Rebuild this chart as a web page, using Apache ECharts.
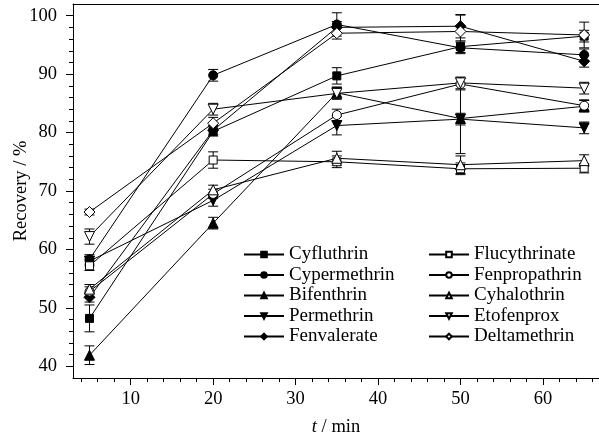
<!DOCTYPE html>
<html>
<head>
<meta charset="utf-8">
<script src="https://cdn.jsdelivr.net/npm/echarts@6/dist/echarts.min.js"></script>
<style>
  html, body { margin: 0; padding: 0; background: #fff; }
  #chart { width: 599px; height: 441px; }
</style>
</head>
<body>
<div id="chart"></div>
<script>
// sampling times (min)
const times = [5, 20, 35, 50, 65];

// recovery (%) per pesticide, one value per time
const cyfluthrin    = [48.2, 80.2, 89.7, 94.7, 96.5];
const cypermethrin  = [58.3, 89.8, 98.5, 94.5, 93.3];
const bifenthrin    = [41.9, 64.5, 86.8, 82.4, 84.5];
const permethrin    = [58.0, 68.4, 81.2, 82.3, 80.8];
const fenvalerate   = [51.8, 80.4, 98.0, 98.2, 92.2];
const flucythrinate = [57.2, 75.3, 75.0, 73.8, 73.9];
const fenpropathrin = [52.8, 69.5, 83.0, 88.3, 84.6];
const cyhalothrin   = [53.2, 70.2, 75.6, 74.5, 75.2];
const etofenprox    = [62.2, 84.0, 86.7, 88.5, 87.6];
const deltamethrin  = [66.4, 81.6, 97.0, 97.3, 96.7];

// standard deviations (error bars)
const cyfluthrinErr    = [2.3, 0.8, 1.4, 1.0, 1.0];
const cypermethrinErr  = [0.8, 1.0, 2.0, 1.0, 1.0];
const bifenthrinErr    = [1.6, 1.0, 1.0, 6.0, 1.0];
const permethrinErr    = [0.8, 1.0, 1.6, 1.0, 1.0];
const fenvalerateErr   = [0.8, 0.8, 1.0, 2.0, 1.0];
const flucythrinateErr = [0.8, 1.4, 1.0, 1.0, 0.8];
const fenpropathrinErr = [0.8, 0.8, 1.0, 1.0, 1.0];
const cyhalothrinErr   = [0.8, 0.8, 1.2, 1.5, 1.0];
const etofenproxErr    = [1.3, 1.0, 1.0, 1.0, 1.0];
const deltamethrinErr  = [0.5, 1.0, 1.0, 2.8, 2.2];

// axis ticks
const xMajorTicks = [10, 20, 30, 40, 50, 60];
const xMinorTicks = [4, 6, 8, 12, 14, 16, 18, 22, 24, 26, 28, 32, 34, 36, 38, 42, 44, 46, 48, 52, 54, 56, 58, 62, 64, 66];
const yMajorTicks = [40, 50, 60, 70, 80, 90, 100];
const yMinorTicks = [42, 44, 46, 48, 52, 54, 56, 58, 62, 64, 66, 68, 72, 74, 76, 78, 82, 84, 86, 88, 92, 94, 96, 98];

const FONT = '"Liberation Serif", "DejaVu Serif", serif';

// name, values, errors, marker
const pesticides = [
  ['Cyfluthrin',    cyfluthrin,    cyfluthrinErr,    'rect',     8,  0,   true],
  ['Cypermethrin',  cypermethrin,  cypermethrinErr,  'circle',   9,  0,   true],
  ['Bifenthrin',    bifenthrin,    bifenthrinErr,    'triangle', 10, 0,   true],
  ['Permethrin',    permethrin,    permethrinErr,    'triangle', 10, 180, true],
  ['Fenvalerate',   fenvalerate,   fenvalerateErr,   'diamond',  11, 0,   true],
  ['Flucythrinate', flucythrinate, flucythrinateErr, 'rect',     8,  0,   false],
  ['Fenpropathrin', fenpropathrin, fenpropathrinErr, 'circle',   9,  0,   false],
  ['Cyhalothrin',   cyhalothrin,   cyhalothrinErr,   'triangle', 10, 0,   false],
  ['Etofenprox',    etofenprox,    etofenproxErr,    'triangle', 10, 180, false],
  ['Deltamethrin',  deltamethrin,  deltamethrinErr,  'diamond',  11, 0,   false]
];

const chart = echarts.init(document.getElementById('chart'), null, { renderer: 'canvas' });

function renderErrorBar(params, api) {
  const x = api.value(0);
  const lo = api.coord([x, api.value(1)]);
  const hi = api.coord([x, api.value(2)]);
  const half = 5;
  const style = { stroke: '#000', lineWidth: 1 };
  return {
    type: 'group',
    children: [
      { type: 'line', shape: { x1: lo[0], y1: lo[1], x2: hi[0], y2: hi[1] }, style: style },
      { type: 'line', shape: { x1: lo[0] - half, y1: lo[1], x2: lo[0] + half, y2: lo[1] }, style: style },
      { type: 'line', shape: { x1: hi[0] - half, y1: hi[1], x2: hi[0] + half, y2: hi[1] }, style: style }
    ]
  };
}

const errorData = [];
pesticides.forEach(p => {
  times.forEach((t, i) => {
    errorData.push([t, p[1][i] - p[2][i], p[1][i] + p[2][i]]);
  });
});

const series = [{
  type: 'custom',
  name: 'err',
  renderItem: renderErrorBar,
  data: errorData,
  xAxisIndex: 0,
  yAxisIndex: 0,
  z: 1,
  silent: true
}];

pesticides.forEach(p => {
  series.push({
    type: 'line',
    name: p[0],
    data: times.map((t, i) => [t, p[1][i]]),
    xAxisIndex: 0,
    yAxisIndex: 0,
    symbol: p[3],
    symbolSize: p[4],
    symbolRotate: p[5],
    showAllSymbol: true,
    z: 2,
    lineStyle: { color: '#000', width: 1 },
    itemStyle: p[6]
      ? { color: '#000', borderColor: '#000', borderWidth: 1 }
      : { color: '#fff', borderColor: '#000', borderWidth: 1 }
  });
});

const legendBase = {
  orient: 'vertical',
  top: 245,
  padding: 0,
  itemWidth: 40,
  itemHeight: 7,
  itemGap: 1.5,
  textStyle: { fontSize: 19, fontFamily: FONT, color: '#000', lineHeight: 19 }
};

const axisText = { fontSize: 18.5, fontFamily: FONT, color: '#000' };
const black = { color: '#000', width: 1 };

chart.setOption({
  animation: false,
  backgroundColor: '#fff',
  grid: { left: 73, right: 0, top: 4, bottom: 63, containLabel: false, outerBoundsMode: 'none' },
  legend: [
    Object.assign({}, legendBase, { left: 243, data: pesticides.slice(0, 5).map(p => p[0]) }),
    Object.assign({}, legendBase, { left: 428, data: pesticides.slice(5).map(p => p[0]) })
  ],
  xAxis: [
    {
      type: 'value', min: 3, max: 66.8, position: 'bottom',
      axisLine: { lineStyle: black },
      axisTick: { length: 7, customValues: xMajorTicks, lineStyle: black },
      axisLabel: Object.assign({ customValues: xMajorTicks, margin: 12 }, axisText),
      splitLine: { show: false },
      name: '{it|t} / min',
      nameLocation: 'middle',
      nameGap: 40,
      nameMoveOverlap: false,
      nameTextStyle: Object.assign({ rich: { it: { fontStyle: 'italic', fontSize: 18.5, fontFamily: FONT, color: '#000' } } }, axisText)
    },
    {
      type: 'value', min: 3, max: 66.8, position: 'bottom',
      axisLine: { show: false },
      axisTick: { length: 4, customValues: xMinorTicks, lineStyle: black },
      axisLabel: { show: false },
      splitLine: { show: false }
    },
    {
      type: 'value', min: 3, max: 66.8, position: 'top',
      axisLine: { lineStyle: black },
      axisTick: { show: false },
      axisLabel: { show: false },
      splitLine: { show: false }
    }
  ],
  yAxis: [
    {
      type: 'value', min: 38, max: 102, position: 'left',
      axisLine: { show: true, lineStyle: black },
      axisTick: { show: true, length: 7, customValues: yMajorTicks, lineStyle: black },
      axisLabel: Object.assign({ customValues: yMajorTicks, margin: 16 }, axisText),
      splitLine: { show: false },
      name: 'Recovery / %',
      nameLocation: 'middle',
      nameGap: 42,
      nameMoveOverlap: false,
      nameTextStyle: axisText
    },
    {
      type: 'value', min: 38, max: 102, position: 'left',
      axisLine: { show: false },
      axisTick: { show: true, length: 4, customValues: yMinorTicks, lineStyle: black },
      axisLabel: { show: false },
      splitLine: { show: false }
    }
  ],
  series: series
});
</script>
</body>
</html>
